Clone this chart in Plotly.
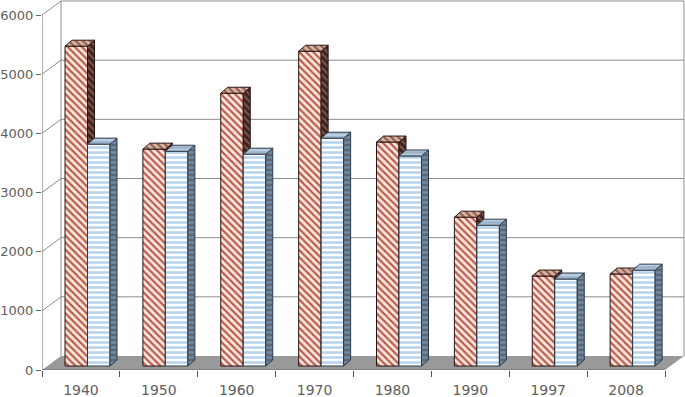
import plotly.graph_objects as go

categories = ["1940", "1950", "1960", "1970", "1980", "1990", "1997", "2008"]
series_red = [5405, 3665, 4610, 5320, 3785, 2515, 1520, 1555]
series_blue = [3750, 3630, 3580, 3850, 3550, 2380, 1470, 1620]
y_ticks = [0, 1000, 2000, 3000, 4000, 5000, 6000]

# plot geometry (pixels): the frame spans to the figure's top/right so the 3D back wall fits
W, H = 685, 397
L, R, T, B = 42, 665, 15, 370
ux = (R - L) / len(categories)      # px per category
uy = (B - T) / 6000                 # px per value
px = lambda p: p / ux
py = lambda p: p / uy
wall_dx, wall_dy = px(19), py(14)
base = py(4)
bar_w = 0.289
red_off, blue_off = 23 / ux - 0.5, 23 / ux - 0.5 + bar_w
depth_x, depth_y = px(7), py(6)

fig = go.Figure()

def poly(xs, ys, fill, line="rgba(0,0,0,0)", lw=1, pattern=None, z=0):
    fig.add_trace(go.Scatter(
        x=xs + [xs[0]], y=ys + [ys[0]], mode="lines", fill="toself", fillcolor=fill,
        fillpattern=pattern, line=dict(color=line, width=lw), cliponaxis=False,
        hoverinfo="skip", showlegend=False, zorder=z))

def line(xs, ys, color="#8c8c8c", lw=1):
    fig.add_trace(go.Scatter(x=xs, y=ys, mode="lines", line=dict(color=color, width=lw),
                             cliponaxis=False, hoverinfo="skip", showlegend=False, zorder=0))

n = len(categories)
# floor
poly([0, n, n + wall_dx, wall_dx], [0, 0, wall_dy, wall_dy], "#999999", z=0)
# walls & gridlines
for v in y_ticks:
    if v:
        line([0, wall_dx, n + wall_dx], [v, v + wall_dy, v + wall_dy])
line([wall_dx, wall_dx], [wall_dy, 6000 + wall_dy])
line([n + wall_dx, n + wall_dx], [wall_dy, 6000 + wall_dy])
# axis lines
line([0, 0], [0, 6000], color="#666666")
line([0, n], [0, 0], color="#666666")

RED_LINE = "#2a1512"
BLUE_LINE = "#2b3a4a"

def add_series(vals, off, front, side, top, lc, shape, fg, sol, z):
    xs = [i + 0.5 for i in range(n)]
    def pat(bg, f):
        return dict(shape=shape, fgcolor=f, bgcolor=bg, size=fg[1], solidity=sol, fillmode="replace")
    fig.add_trace(go.Bar(
        x=xs, y=vals, base=base, width=bar_w, offset=off, cliponaxis=False,
        marker=dict(color=front[0], line=dict(color=lc, width=1), pattern=pat(front[0], fg[0])),
        showlegend=False, hoverinfo="skip", zorder=z))
    for i, v in enumerate(vals):
        x0 = i + 0.5 + off
        x1 = x0 + bar_w
        t = v + base
        poly([x1, x1 + depth_x, x1 + depth_x, x1], [base, base + depth_y, t + depth_y, t], side[0], lc,
             pattern=pat(side[0], side[1]), z=z)
        poly([x0, x1, x1 + depth_x, x0 + depth_x], [t, t, t + depth_y, t + depth_y], top[0], lc,
             pattern=pat(top[0], top[1]), z=z)

add_series(series_red, red_off, ("#fbe6dd",), ("#3a2320", "#7d5348"), ("#d9b5a6", "#8f5e4e"),
           RED_LINE, "\\", ("#b85a4a", 5), 0.42, 1)
add_series(series_blue, blue_off, ("#ffffff",), ("#58687c", "#75889c"), ("#b9cde0", "#9cb3c9"),
           BLUE_LINE, "-", ("#b5d3ec", 5), 0.5, 2)

fig.update_layout(
    width=W, height=H, autosize=False, plot_bgcolor="white", paper_bgcolor="white",
    margin=dict(l=L, r=0, t=0, b=H - B, autoexpand=False), barmode="overlay",
    font=dict(family="DejaVu Sans", size=14, color="#606060"), showlegend=False,
    xaxis=dict(range=[0, (W - L) / ux], tickvals=[i + 0.5 for i in range(n)], ticktext=categories, automargin=False,
               ticks="outside", ticklen=7, tickcolor="rgba(0,0,0,0)", showgrid=False, zeroline=False,
               showline=False,
               minor=dict(tickvals=list(range(n + 1)), ticks="outside", ticklen=6, tickcolor="#555555", showgrid=False)),
    yaxis=dict(range=[0, B / uy], tickvals=y_ticks, ticks="outside", ticklen=5, tickcolor="#666666", automargin=False,
               tickfont=dict(size=13), showgrid=False, zeroline=False, showline=False),
)
fig.write_html("out.html", config={"displayModeBar": False},
               post_script="document.body.style.margin='0';document.documentElement.style.overflow='hidden';")
